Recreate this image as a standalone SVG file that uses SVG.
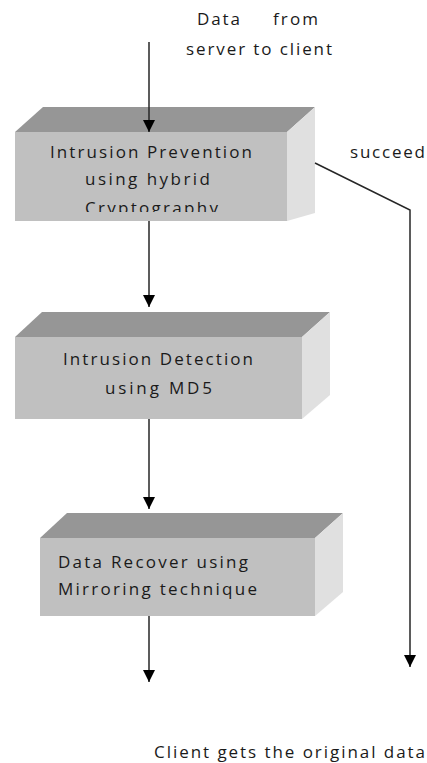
<svg xmlns="http://www.w3.org/2000/svg" width="427" height="763" viewBox="0 0 427 763">
  <style>
    .front { fill: #c0c0c0; }
    .top { fill: #969696; }
    .side { fill: #e0e0e0; }
    .lbl { font-family: "Open Sans", "Liberation Sans", sans-serif; font-size: 17px; fill: #1a1a1a; }
    .wire { stroke: #262626; stroke-width: 1.5; fill: none; }
  </style>
  <defs>
    <marker id="arrow" viewBox="0 0 12 12" refX="12" refY="6" markerWidth="12" markerHeight="12" markerUnits="userSpaceOnUse" orient="auto">
      <path d="M0,0 L12,6 L0,12 Z" fill="#000"/>
    </marker>
    <clipPath id="clipBox1">
      <rect x="15" y="132" width="272" height="80"/>
    </clipPath>
  </defs>

  <rect width="427" height="763" fill="#fff"/>

  <!-- free labels -->
  <g id="label-input">
    <text class="lbl" x="197" y="25" textLength="43" lengthAdjust="spacing">Data</text>
    <text class="lbl" x="273" y="25" textLength="45" lengthAdjust="spacing">from</text>
    <text class="lbl" x="186" y="55" textLength="146" lengthAdjust="spacing">server to client</text>
  </g>
  <g id="label-succeed">
    <text class="lbl" x="350" y="158" textLength="75" lengthAdjust="spacing">succeed</text>
  </g>
  <g id="label-output">
    <text class="lbl" x="154" y="758" textLength="271" lengthAdjust="spacing">Client gets the original data</text>
  </g>

  <!-- node: intrusion prevention -->
  <g id="prevention">
    <polygon class="top" points="15,132 43,107 315,107 287,132"/>
    <polygon class="side" points="287,132 315,107 315,213 287,221"/>
    <rect class="front" x="15" y="132" width="272" height="89"/>
    <g clip-path="url(#clipBox1)">
      <text class="lbl" x="50" y="158" textLength="202" lengthAdjust="spacing">Intrusion Prevention</text>
      <text class="lbl" x="85" y="185" textLength="125" lengthAdjust="spacing">using hybrid</text>
      <text class="lbl" x="85" y="214" textLength="133" lengthAdjust="spacing">Cryptography</text>
    </g>
  </g>

  <!-- node: intrusion detection -->
  <g id="detection">
    <polygon class="top" points="15,337 42,312 330,312 302,337"/>
    <polygon class="side" points="302,337 330,312 330,395 302,419"/>
    <rect class="front" x="15" y="337" width="287" height="82"/>
    <text class="lbl" x="63" y="365" textLength="190" lengthAdjust="spacing">Intrusion Detection</text>
    <text class="lbl" x="105" y="394" textLength="107" lengthAdjust="spacing">using  MD5</text>
  </g>

  <!-- node: data recovery -->
  <g id="recovery">
    <polygon class="top" points="40,538 67,513 343,513 315,538"/>
    <polygon class="side" points="315,538 343,513 343,592 315,616"/>
    <rect class="front" x="40" y="538" width="275" height="78"/>
    <text class="lbl" x="58" y="568" textLength="190" lengthAdjust="spacing">Data Recover using</text>
    <text class="lbl" x="58" y="595" textLength="199" lengthAdjust="spacing">Mirroring technique</text>
  </g>

  <!-- connectors -->
  <g id="connectors">
    <line class="wire" x1="149" y1="42" x2="149" y2="132" marker-end="url(#arrow)"/>
    <line class="wire" x1="149" y1="221" x2="149" y2="307" marker-end="url(#arrow)"/>
    <line class="wire" x1="149" y1="419" x2="149" y2="509" marker-end="url(#arrow)"/>
    <line class="wire" x1="149" y1="616" x2="149" y2="682" marker-end="url(#arrow)"/>
    <polyline class="wire" points="315,163 410,210 410,667" marker-end="url(#arrow)"/>
  </g>
</svg>
